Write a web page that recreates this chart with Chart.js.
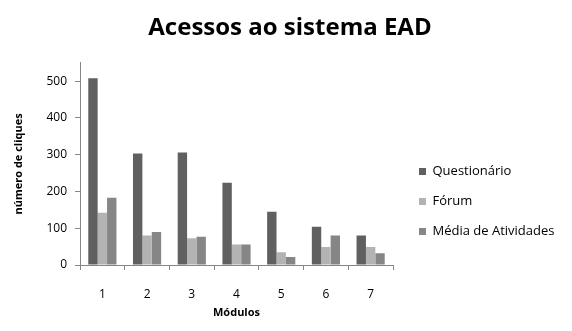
<!DOCTYPE html>
<html>
<head>
<meta charset="utf-8">
<script src="https://cdn.jsdelivr.net/npm/chart.js@4/dist/chart.umd.min.js"></script>
<style>
    html, body { margin: 0; padding: 0; background: #fff; }
    #box { width: 572px; height: 331px; }
</style>
</head>
<body>
<div id="box"><canvas id="grafico"></canvas></div>
<script>
// valores
const modulos = ["1", "2", "3", "4", "5", "6", "7"];
const questionario = [508, 303, 306, 224, 145, 104, 80];
const forum = [142, 80, 73, 56, 35, 49, 49];
const mediaAtividades = [183, 90, 77, 56, 22, 80, 32];
const series = ["Questionário", "Fórum", "Média de Atividades"];

const cinza = "#868686";
const fonte = "'Open Sans', sans-serif";

Chart.defaults.font.family = fonte;
Chart.defaults.color = "#1a1a1a";

// legenda com largura fixa e descida para ficar como no original
const ajusteLegenda = {
    id: 'ajusteLegenda',
    afterInit(chart){
        const lg = chart.legend;
        const fitOriginal = lg.fit;
        lg.fit = function(){
            fitOriginal.call(this);
            this.width = 179;
        };
    },
    afterLayout(chart){
        const lg = chart.legend;
        lg.left += 9; lg.right += 9;
        lg.top += 36; lg.bottom += 36;
    }
};

new Chart(document.getElementById("grafico"), {
    type: 'bar',
    data: {
        labels: modulos,
        datasets: [
            { label: series[0], data: questionario, backgroundColor: "#606060" },
            { label: series[1], data: forum, backgroundColor: "#b3b3b3" },
            { label: series[2], data: mediaAtividades, backgroundColor: "#868686" }
        ]
    },
    plugins: [ajusteLegenda],
    options: {
        responsive: true,
        maintainAspectRatio: false,
        animation: false,
        categoryPercentage: 0.63,
        barPercentage: 1.0,
        layout: { padding: { left: 8, right: 0, bottom: 0 } },
        plugins: {
            title: {
                display: true,
                text: 'Acessos ao sistema EAD',
                color: "#000",
                font: { size: 24, weight: 'bold', family: fonte },
                padding: { top: 14, bottom: 20 }
            },
            legend: {
                position: 'right',
                labels: {
                    boxWidth: 7,
                    boxHeight: 7,
                    padding: 17,
                    color: "#000",
                    font: { size: 13, family: fonte }
                }
            },
            tooltip: { enabled: false }
        },
        scales: {
            x: {
                grid: { drawOnChartArea: false, drawTicks: true, tickLength: 5, color: cinza },
                border: { color: cinza },
                ticks: { padding: 17, color: "#000", font: { size: 12 } },
                title: {
                    display: true,
                    text: 'Módulos',
                    color: "#000",
                    font: { size: 11, weight: 'bold' },
                    padding: { top: 12, bottom: 12 }
                },
                afterFit: function(scale){ scale.height = 66; }
            },
            y: {
                min: 0,
                max: 550,
                grid: { drawOnChartArea: false, drawTicks: true, tickLength: 5, color: cinza },
                border: { color: cinza },
                ticks: { stepSize: 100, includeBounds: false, padding: 8, color: "#000", font: { size: 12 } },
                title: {
                    display: true,
                    text: 'número de cliques',
                    color: "#000",
                    font: { size: 11, weight: 'bold' },
                    padding: { bottom: 8 }
                },
                afterFit: function(scale){ scale.width = 72; }
            }
        }
    }
});
</script>
</body>
</html>
